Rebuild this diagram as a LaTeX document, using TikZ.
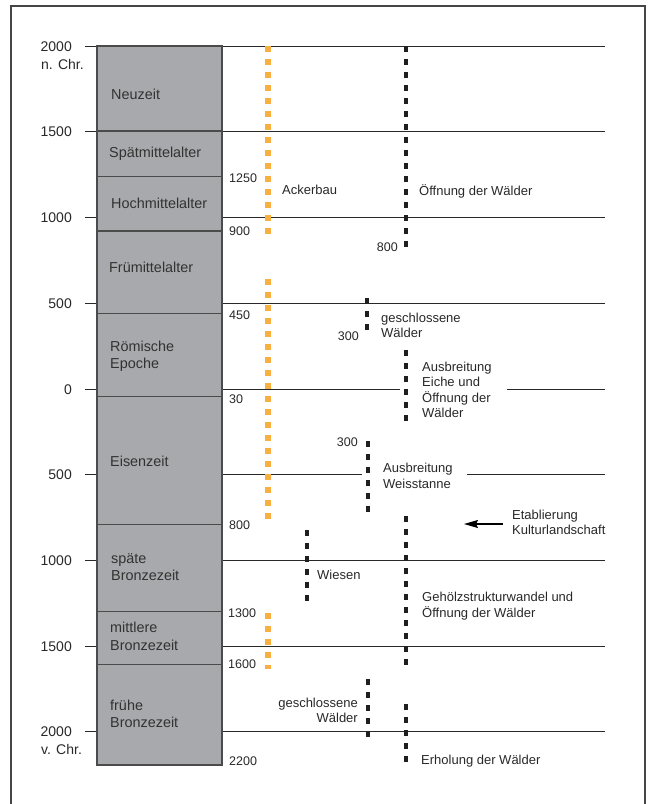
\documentclass[tikz,border=0pt]{standalone}
\usepackage{fontspec}
\setmainfont{Liberation Sans}
\usetikzlibrary{arrows.meta}
\definecolor{colfill}{RGB}{167,169,172}
\definecolor{colline}{RGB}{75,75,75}
\definecolor{linec}{RGB}{40,40,40}
\definecolor{orangec}{RGB}{250,176,64}
\definecolor{pertext}{RGB}{50,50,50}
\definecolor{framec}{RGB}{70,70,70}
\begin{document}
\begin{tikzpicture}[x=1pt,y=-1pt,
  hline/.style={draw=linec,line width=1pt},
  tick/.style={draw=linec,line width=1pt},
  colsep/.style={draw=colline,line width=1.3pt},
  blk/.style={draw=black!88,line width=4.8pt,dash pattern=on 6pt off 7pt},
  org/.style={draw=orangec,line width=5.2pt,dash pattern=on 6pt off 7pt},
  per/.style={font=\fontsize{14.4}{17.5}\selectfont,text=pertext,anchor=west,inner sep=0pt,align=left},
  scl/.style={font=\fontsize{14}{17}\selectfont,text=linec,anchor=east,inner sep=0pt,text height=10pt,text depth=0pt},
  sclw/.style={scl,anchor=west},
  dat/.style={font=\fontsize{12.5}{15}\selectfont,text=linec,anchor=west,inner sep=0pt,text height=9pt,text depth=0pt},
  date/.style={dat,anchor=east},
  lab/.style={font=\fontsize{13}{15.5}\selectfont,text=linec,anchor=west,inner sep=0pt,align=left},
  labr/.style={lab,anchor=east,align=right}
]
\useasboundingbox (0,0) rectangle (654,804);
% frame
\draw[draw=framec,line width=1.5pt] (11,6) rectangle (645,820);

% scale coordinates
\foreach \n/\y in {a/46,b/131,c/217,d/303,e/389,f/474,g/560,h/646,i/731}{
  \coordinate (t\n) at (85,\y);
  \coordinate (c\n) at (97,\y);
  \coordinate (r\n) at (222,\y);
  \coordinate (e\n) at (605,\y);
}
\foreach \n in {a,b,c,d,e,f,g,h,i}{
  \draw[tick] (t\n) -- (c\n);
}
\foreach \n in {a,b,c,d,g,h,i}{
  \draw[hline] (r\n) -- (e\n);
}
\coordinate (e1) at (400,389); \coordinate (e2) at (507,389);
\coordinate (f1) at (362,474); \coordinate (f2) at (467,474);
\draw[hline] (re) -- (e1);
\draw[hline] (e2) -- (ee);
\draw[hline] (rf) -- (f1);
\draw[hline] (f2) -- (ef);

% column
\draw[fill=colfill,draw=colline,line width=1.2pt] (97,46) rectangle (222,765);
\foreach \y in {131,176.5,231,313.5,396.5,524.5,611.5,664.5}{
  \draw[colsep] (97,\y) -- (222,\y);
}
\draw[draw=colline,line width=2.2pt] (97,765) -- (222,765);

% period labels
\node[per] (neu) at (111,94) {Neuzeit};
\node[per] (spm) at (109,154) {Spätmittelalter};
\node[per] (hom) at (111,203) {Hochmittelalter};
\node[per] (frm) at (109,267) {Frümittelalter};
\node[per] (roe) at (110,356.5) {Römische\\Epoche};
\node[per] (eis) at (110,461) {Eisenzeit};
\node[per] (spb) at (111,567) {späte\\Bronzezeit};
\node[per] (mib) at (110,636.5) {mittlere\\Bronzezeit};
\node[per] (frb) at (110,714) {frühe\\Bronzezeit};

% scale labels
\node[scl] (s1) at (72,46) {2000};
\node[sclw] (s1b) at (41,64) {n. Chr.};
\node[scl] (s2) at (72,131) {1500};
\node[scl] (s3) at (72,217) {1000};
\node[scl] (s4) at (72,303) {500};
\node[scl] (s5) at (72,389) {0};
\node[scl] (s6) at (72,474) {500};
\node[scl] (s7) at (72,560) {1000};
\node[scl] (s8) at (72,646) {1500};
\node[scl] (s9) at (72,731) {2000};
\node[sclw] (s9b) at (41,749) {v. Chr.};

% boundary dates
\node[dat] (d1) at (229,177.5) {1250};
\node[dat] (d2) at (229,231) {900};
\node[dat] (d3) at (229,315) {450};
\node[dat] (d4) at (229,399) {30};
\node[dat] (d5) at (229,525) {800};
\node[dat] (d6) at (228,612.5) {1300};
\node[dat] (d7) at (228,664) {1600};
\node[dat] (d8) at (229,761) {2200};

% orange dotted lines (Ackerbau)
\coordinate (o1a) at (268,46);  \coordinate (o1b) at (268,240);
\coordinate (o2a) at (268,279); \coordinate (o2b) at (268,522);
\coordinate (o3a) at (268,613); \coordinate (o3b) at (268,669);
\draw[org] (o1a) -- (o1b);
\draw[org] (o2a) -- (o2b);
\draw[org] (o3a) -- (o3b);

% black dotted lines
\coordinate (ka1) at (406,46);  \coordinate (ka2) at (406,252);
\coordinate (kb1) at (367,298); \coordinate (kb2) at (367,336);
\coordinate (kc1) at (406,350); \coordinate (kc2) at (406,428);
\coordinate (kd1) at (368,441); \coordinate (kd2) at (368,518);
\coordinate (ke1) at (406,516); \coordinate (ke2) at (406,668);
\coordinate (kf1) at (307,530); \coordinate (kf2) at (307,608);
\coordinate (kg1) at (368,679); \coordinate (kg2) at (368,740);
\coordinate (kh1) at (406,704); \coordinate (kh2) at (406,766);
\draw[blk] (ka1) -- (ka2);
\draw[blk] (kb1) -- (kb2);
\draw[blk] (kc1) -- (kc2);
\draw[blk] (kd1) -- (kd2);
\draw[blk] (ke1) -- (ke2);
\draw[blk] (kf1) -- (kf2);
\draw[blk] (kg1) -- (kg2);
\draw[blk] (kh1) -- (kh2);

% labels
\node[lab] (ack) at (282,190) {Ackerbau};
\node[lab] (oew) at (419,191) {Öffnung der Wälder};
\node[date] (n800) at (398,247) {800};
\node[lab] (gw1) at (381,325.5) {geschlossene\\Wälder};
\node[date] (n300a) at (359,336) {300};
\node[lab] (aeo) at (422,390) {Ausbreitung\\Eiche und\\Öffnung der\\Wälder};
\node[date] (n300b) at (358,441.5) {300};
\node[lab] (aw) at (383,476) {Ausbreitung\\Weisstanne};
\node[lab] (ek) at (512,522.5) {Etablierung\\Kulturlandschaft};
\node[lab] (wie) at (317,575) {Wiesen};
\node[lab] (geh) at (422,606) {Gehölzstrukturwandel und\\Öffnung der Wälder};
\node[labr] (gw2) at (358,710.5) {geschlossene\\Wälder};
\node[lab] (erh) at (421,761) {Erholung der Wälder};

% arrow
\coordinate (arS) at (503,524);
\coordinate (arE) at (464,524);
\draw[draw=black,line width=1.4pt,-{Stealth[length=14pt,width=8pt,inset=2pt]}] (arS) -- (arE);
\end{tikzpicture}
\end{document}
